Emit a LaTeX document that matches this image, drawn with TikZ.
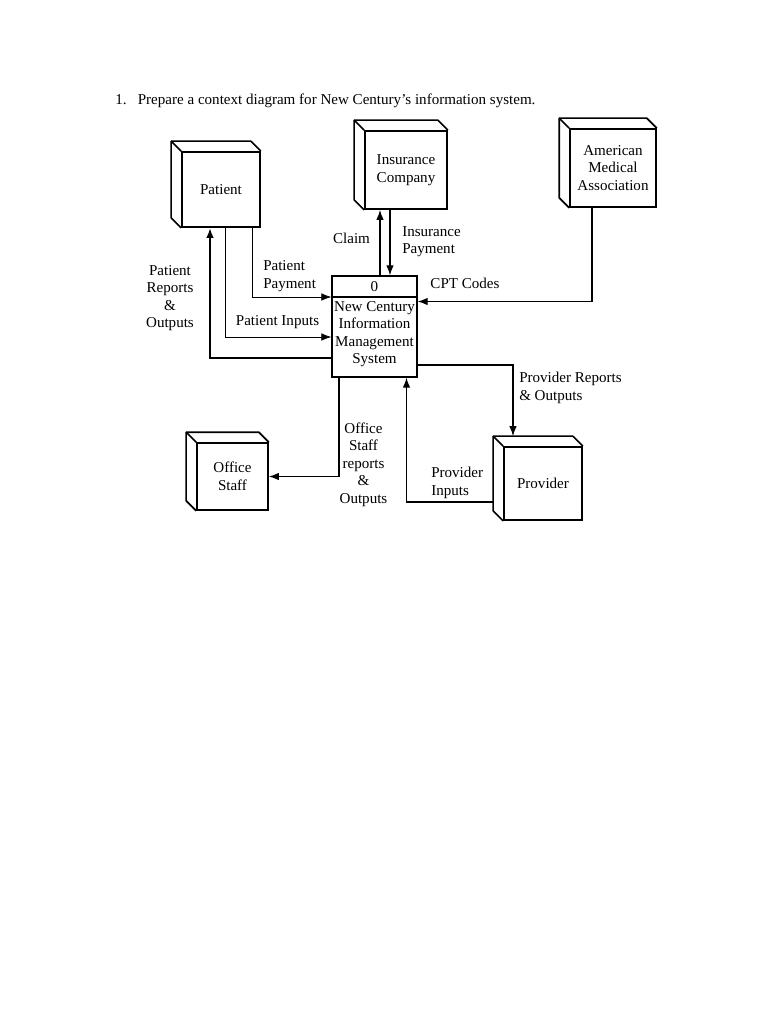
\documentclass[tikz,border=0pt]{standalone}
\usepackage{fontspec}
\setmainfont{Liberation Serif}
\usetikzlibrary{arrows.meta}

\tikzset{
  entity/.style={draw, line width=1.3pt, align=center, inner sep=0pt, font=\fontsize{12}{14}\selectfont},
  process/.style={draw, line width=1pt, inner sep=0pt},
  flow/.style={->, line width=1pt},
  thinflow/.style={->, line width=0.5pt},
  thickflow/.style={->, line width=1.6pt},
  lbl/.style={inner sep=0pt, font=\fontsize{12}{14}\selectfont}
}

\begin{document}
\begin{tikzpicture}[x=0.797pt, y=-0.797pt, >={Latex[length=8pt,width=6pt]}]
            \useasboundingbox (0,0) rectangle (768,1024);

            % Question
            \node[lbl, anchor=west] (title) at (115,101) {1.\hspace{0.75em}Prepare a context diagram for New Century's information system.};

            % External entities
            \node[entity, minimum width=62.2pt, minimum height=59.8pt] (pat) at (221,189.5) {Patient};
            \node[entity, minimum width=65.4pt, minimum height=62.2pt] (ins) at (406,170) {Insurance\\Company};
            \node[entity, minimum width=68.5pt, minimum height=62.2pt] (ama) at (613,168) {American\\Medical\\Association};
            \node[entity, minimum width=56.6pt, minimum height=53.4pt] (off) at (232.5,476.5) {Office\\Staff};
            \node[entity, minimum width=62.2pt, minimum height=58.2pt] (pro) at (543,483.5) {Provider};

            % Depth of the entity boxes
            \foreach \n in {pat,ins,ama,off,pro} {
                \draw[line width=1.3pt, line join=round] (\n.south west) -- ([shift={(-10,-10)}]\n.south west)
                    -- ([shift={(-10,-10)}]\n.north west) -- ([shift={(-10,-10)}]\n.north east) -- (\n.north east);
                \draw[line width=1.3pt] (\n.north west) -- ([shift={(-10,-10)}]\n.north west);
            }

            % Process
            \node[process, minimum width=67.7pt, minimum height=80.5pt] (proc) at (374.5,326.5) {};
            \coordinate (procdiv) at (0,297);
            \draw[line width=1pt] (proc.west |- procdiv) -- (proc.east |- procdiv);
            \node[lbl] (procid) at (374.5,286.5) {0};
            \node[lbl, align=center] (proctext) at (374.5,334) {New Century\\Information\\Management\\System};

            % Patient flows
            \draw[thickflow] ([shift={(0,31.5)}]proc.west) -| ([shift={(-11,0)}]pat.south);
            \draw[thinflow] ([shift={(4,0)}]pat.south) |- ([shift={(0,10.5)}]proc.west);
            \draw[thinflow] ([shift={(31,0)}]pat.south) |- ([shift={(0,-29.5)}]proc.west);
            \node[lbl, align=center] (patrep) at (170,298) {Patient\\Reports\\\&\\Outputs};
            \node[lbl, align=left, anchor=west] (patpay) at (263,276) {Patient\\Payment};
            \node[lbl] (patin) at (277.5,322) {Patient Inputs};

            % Insurance flows
            \draw[flow] ([shift={(5.5,0)}]proc.north) -- ([shift={(-26,0)}]ins.south);
            \draw[flow] ([shift={(-16,0)}]ins.south) -- ([shift={(15.5,0)}]proc.north);
            \node[lbl] (claim) at (351.5,238) {Claim};
            \node[lbl, align=left, anchor=west] (inspay) at (402,241.5) {Insurance\\Payment};

            % AMA flow
            \draw[flow] ([shift={(-21,0)}]ama.south) |- ([shift={(0,-25)}]proc.east);
            \node[lbl] (cpt) at (465,283.5) {CPT Codes};

            % Provider flows
            \draw[flow] ([shift={(0,38.5)}]proc.east) -| ([shift={(-30,-10)}]pro.north);
            \draw[flow] ([shift={(-10,18.5)}]pro.west) -| ([shift={(32,0)}]proc.south);
            \node[lbl, align=left, anchor=west] (prorep) at (519,388) {Provider Reports\\\& Outputs};
            \node[lbl, align=left, anchor=west] (proin) at (431,483) {Provider\\Inputs};

            % Office staff flow
            \draw[flow] ([shift={(-35.5,0)}]proc.south) |- (off.east);
            \node[lbl, align=center] (offrep) at (363.5,464.5) {Office\\Staff\\reports\\\&\\Outputs};
\end{tikzpicture}
\end{document}
